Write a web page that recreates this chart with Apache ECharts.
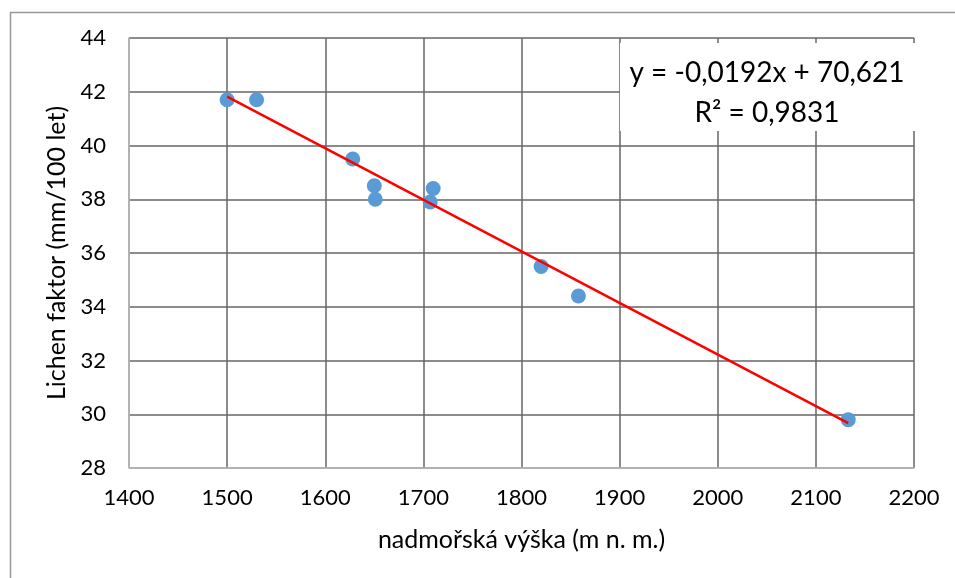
<!DOCTYPE html>
<html>
<head>
<meta charset="utf-8">
<script src="https://cdn.jsdelivr.net/npm/echarts@6/dist/echarts.min.js"></script>
<style>
  html, body { margin: 0; padding: 0; background: #fff; }
  #chart { width: 955px; height: 578px; }
</style>
</head>
<body>
<div id="chart"></div>
<script>
// altitude (m) vs lichen factor (mm/100 years)
const altitude = [1500, 1530, 1628, 1650, 1651, 1707, 1710, 1820, 1858, 2133]
const lichen = [41.7, 41.7, 39.5, 38.5, 38.0, 37.9, 38.4, 35.5, 34.4, 29.8]
const slope = -0.0192
const intercept = 70.621
const eqText = ['y = -0,0192x + 70,621', 'R² = 0,9831']
const xTicks = { min: 1400, max: 2200, interval: 100 }
const yTicks = { min: 28, max: 44, interval: 2 }

const points = altitude.map((x, i) => [x, lichen[i]])
const xMin = Math.min(...altitude)
const xMax = Math.max(...altitude)
const trend = [[xMin, slope * xMin + intercept], [xMax, slope * xMax + intercept]]

const font = 'Lato, "Open Sans", sans-serif'
const chart = echarts.init(document.getElementById('chart'))
chart.setOption({
  animation: false,
  grid: { left: 129, right: 41, top: 38, bottom: 110 },
  xAxis: {
    type: 'value',
    min: xTicks.min,
    max: xTicks.max,
    interval: xTicks.interval,
    name: 'nadmořská výška (m n. m.)',
    nameLocation: 'middle',
    nameGap: 59,
    nameTextStyle: { color: '#000', fontSize: 25, fontFamily: font },
    axisLine: { show: true, lineStyle: { color: '#bfbfbf', width: 1.5 } },
    axisTick: { show: false },
    axisLabel: {
      color: '#000', fontSize: 22, fontFamily: font, margin: 19,
      formatter: v => String(v)
    },
    splitLine: { show: true, lineStyle: { color: '#666', width: 1.5 } }
  },
  yAxis: {
    type: 'value',
    min: yTicks.min,
    max: yTicks.max,
    interval: yTicks.interval,
    name: 'Lichen faktor (mm/100 let)',
    nameLocation: 'middle',
    nameGap: 55,
    nameTextStyle: { color: '#000', fontSize: 25, fontFamily: font },
    axisLine: { show: true, lineStyle: { color: '#bfbfbf', width: 1.5 } },
    axisTick: { show: false },
    axisLabel: { color: '#000', fontSize: 22, fontFamily: font, margin: 23 },
    splitLine: { show: true, lineStyle: { color: '#666', width: 1.5 } }
  },
  series: [{
    type: 'scatter',
    data: points,
    symbolSize: 15,
    itemStyle: { color: '#5b9bd5', opacity: 1 }
  }, {
    type: 'line',
    data: trend,
    symbol: 'none',
    lineStyle: { color: '#ff0000', width: 2.5 },
    z: 3
  }],
  graphic: [{
    type: 'rect',
    left: 8,
    top: 10,
    shape: { width: 960, height: 580 },
    style: { fill: 'none', stroke: '#999', lineWidth: 1.5 },
    silent: true,
    z: 0
  }, {
    type: 'rect',
    left: 620,
    top: 43,
    shape: { width: 296, height: 88 },
    style: { fill: '#fff' },
    z: 10
  }, {
    type: 'text',
    x: 767,
    y: 73,
    style: { text: eqText[0], font: '28px ' + font, fill: '#000', align: 'center', verticalAlign: 'middle' },
    z: 11
  }, {
    type: 'text',
    x: 767,
    y: 113,
    style: { text: eqText[1], font: '28px ' + font, fill: '#000', align: 'center', verticalAlign: 'middle' },
    z: 11
  }]
})
</script>
</body>
</html>
